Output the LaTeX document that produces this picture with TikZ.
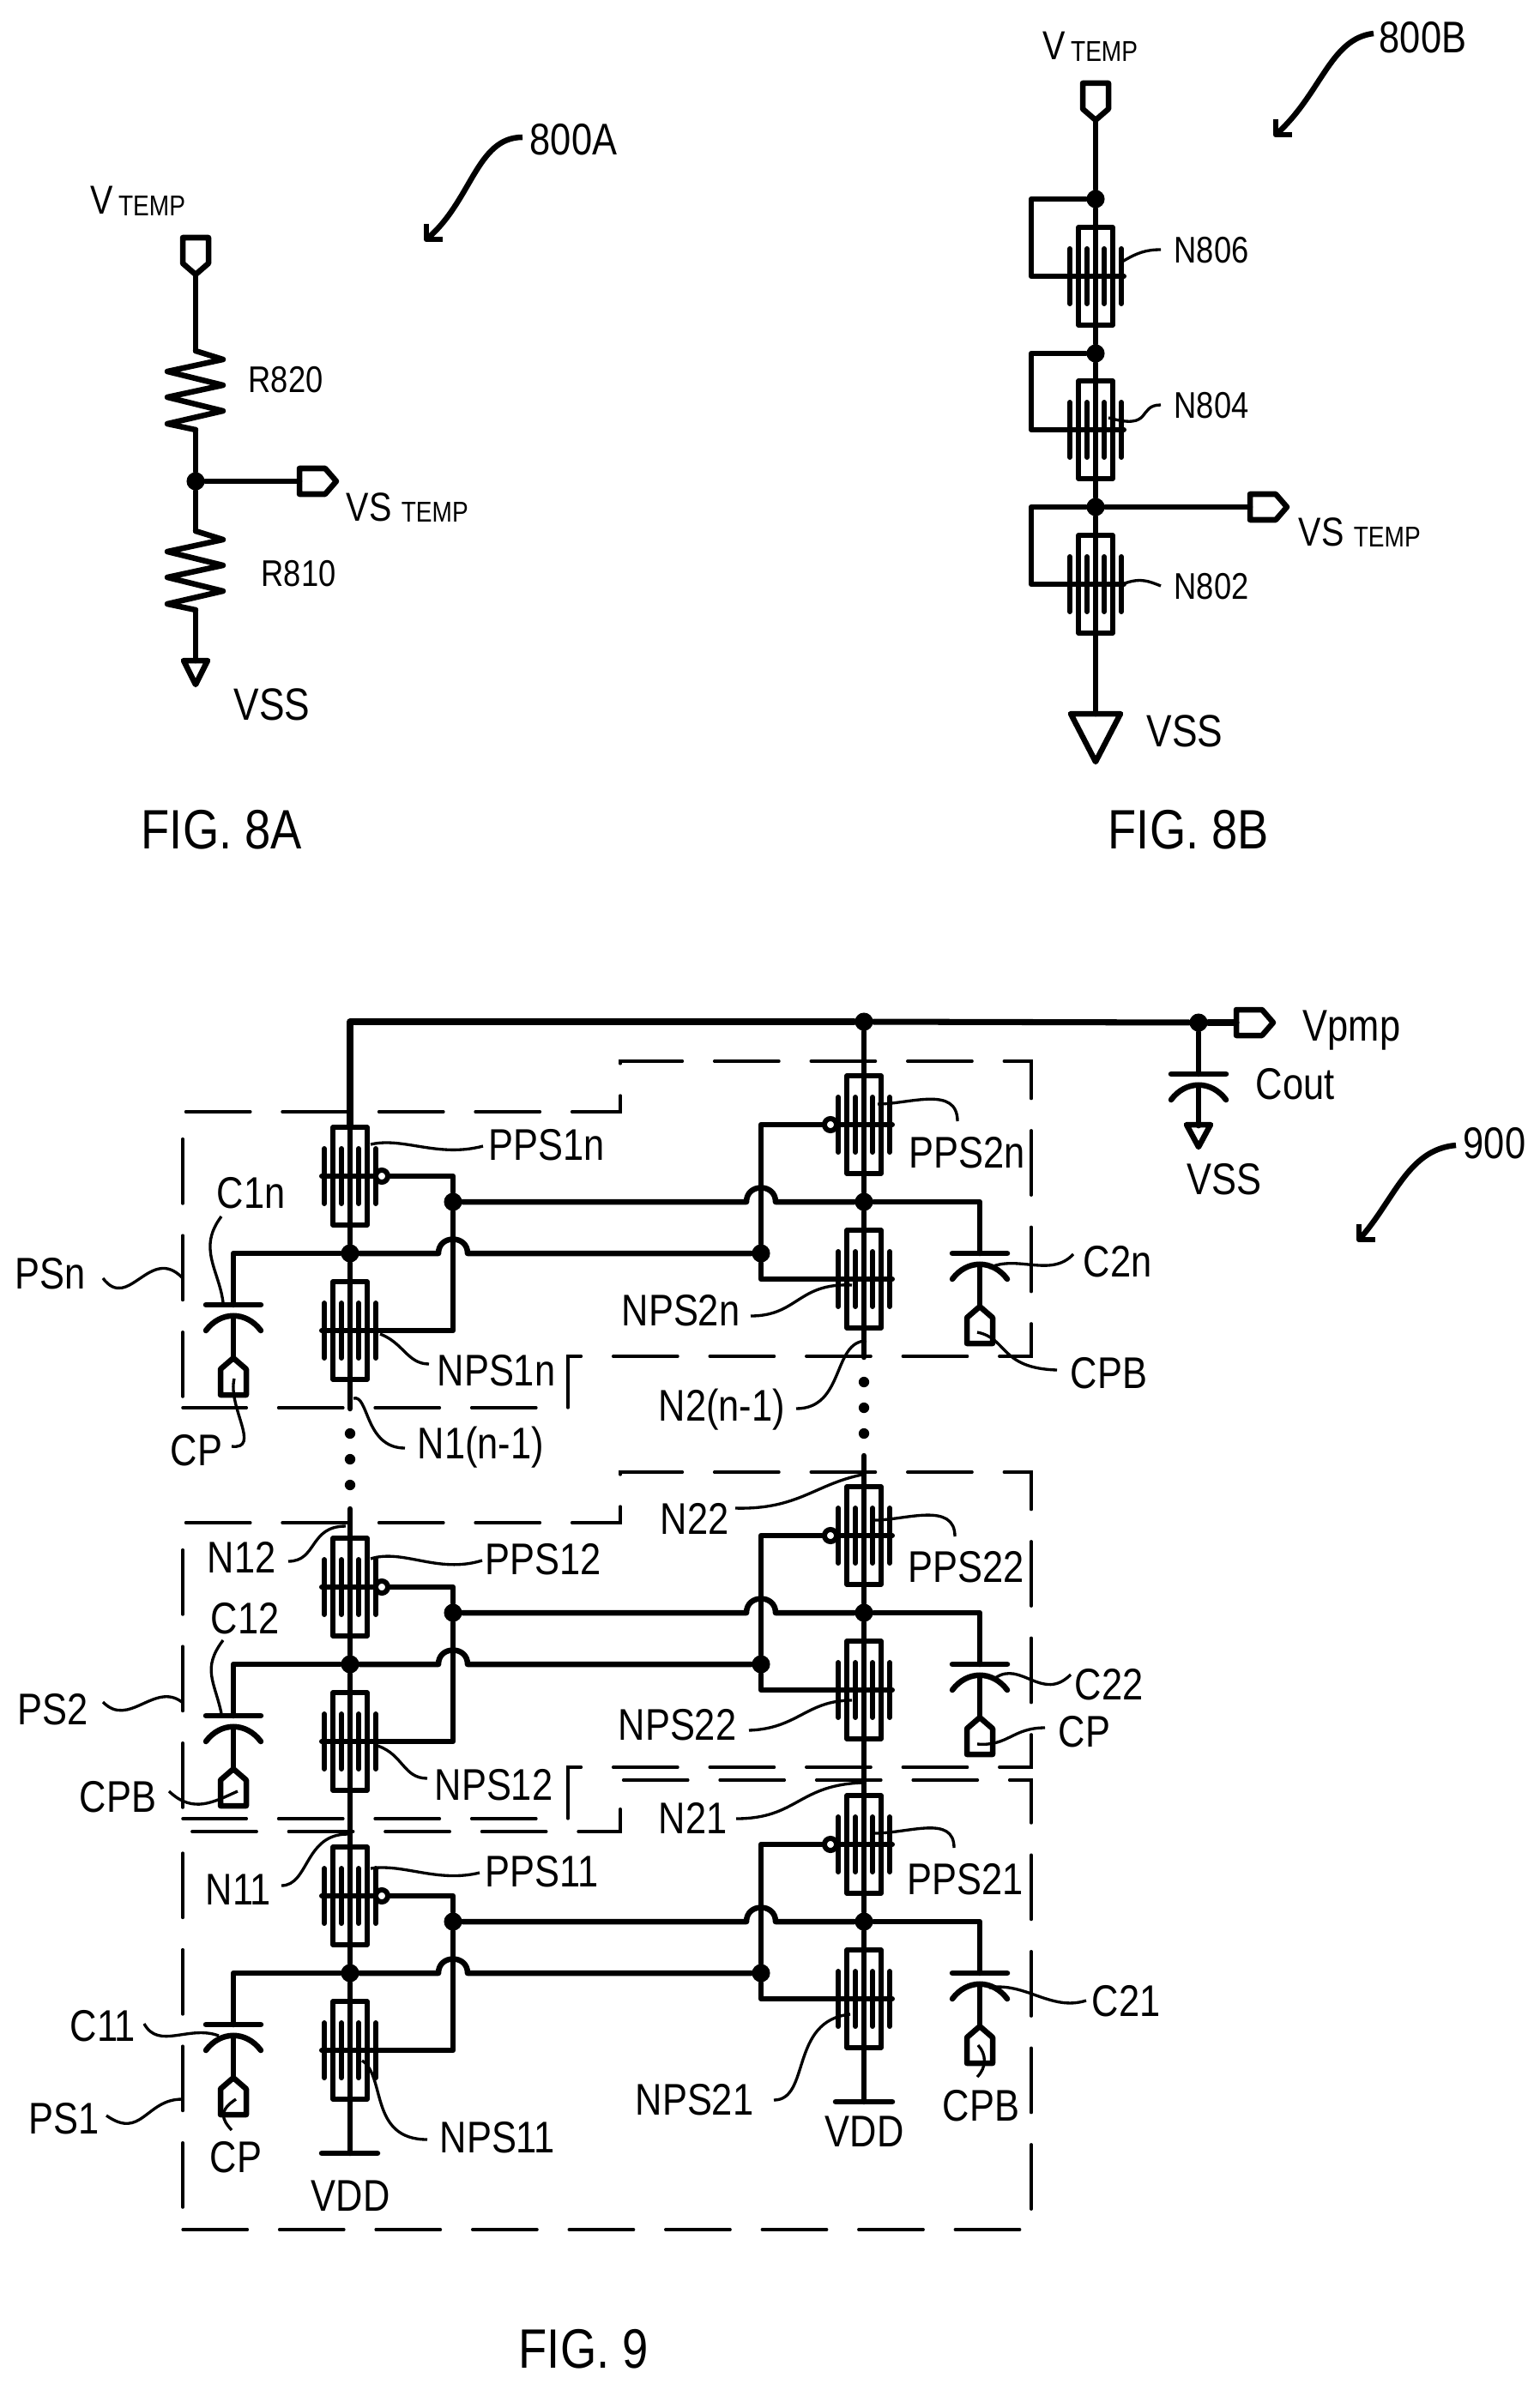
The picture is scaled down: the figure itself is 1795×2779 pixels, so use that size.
\documentclass[tikz,border=0pt]{standalone}
\usepackage{fontspec}
\newfontfamily\labelfont[FakeStretch=0.84]{Liberation Sans}

\tikzset{
  wire/.style={line width=1.85pt, line join=round, line cap=round},
  rail/.style={line width=2pt, line join=round, line cap=round},
  finger/.style={line width=1.7pt, line cap=round},
  devbox/.style={line width=1.5pt, line join=round},
  leader/.style={line width=0.95pt},
  refmark/.style={line width=1.85pt, line join=round},
  dashbox/.style={line width=1pt, line cap=round, dash pattern=on 21.4pt off 10.6pt},
  junct/.style={circle, fill=black, inner sep=0pt, minimum size=6pt},
  smalldot/.style={circle, fill=black, inner sep=0pt, minimum size=3.5pt},
  inv/.style={circle, draw, fill=white, line width=1.7pt, inner sep=0pt, minimum size=4pt},
  lbl/.style={anchor=base west, inner sep=0pt, font=\labelfont\fontsize{14.7}{16}\selectfont},
  lblsmall/.style={lbl, font=\labelfont\fontsize{12.3}{14}\selectfont},
  lblmid/.style={lbl, font=\labelfont\fontsize{13.4}{15}\selectfont},
  lblvss/.style={lbl, font=\labelfont\fontsize{15}{17}\selectfont},
  lblfig/.style={lbl, font=\labelfont\fontsize{18.4}{21}\selectfont}
}

% transistor: name, x, y of the gate bar
\newcommand{\mosfet}[3]{
  \begin{scope}[shift={(#2,#3)}]
    \draw[devbox] (-20,-57) rectangle (20,57);
    \draw[wire] (0,-58) -- (0,58);
    \foreach \fx in {-30,-10,10,30} {\draw[finger] (\fx,-32) -- (\fx,32);}
    \draw[finger] (-33,0) -- (33,0);
    \coordinate (#1-t) at (0,-58);
    \coordinate (#1-b) at (0,58);
    \coordinate (#1-l) at (-33,0);
    \coordinate (#1-r) at (33,0);
  \end{scope}
}
% capacitor: name, x, y of the flat plate
\newcommand{\capac}[3]{
  \begin{scope}[shift={(#2,#3)}]
    \draw[wire] (-32,0) -- (32,0);
    \draw[wire] (-32,30) .. controls (-15,7) and (15,7) .. (32,30);
    \draw[wire] (0,13) -- (0,60);
    \coordinate (#1-t) at (0,0);
    \coordinate (#1-o) at (0,60);
  \end{scope}
}
% pentagon port: name, x, y of the tip, rotation
\newcommand{\port}[4]{
  \begin{scope}[shift={(#2,#3)}, rotate=#4]
    \coordinate (#1) at (0,0);
    \draw[wire] (0,0) -- (15,13) -- (15,43) -- (-15,43) -- (-15,13) -- cycle;
  \end{scope}
}
% ground triangle: name, x, y of the top, half width, height
\newcommand{\gnd}[5]{
  \coordinate (#1) at (#2,#3);
  \draw[wire] (#2-#4,#3) -- (#2+#4,#3) -- (#2,#3+#5) -- cycle;
}
% resistor: name, x, y of the upper end
\newcommand{\resist}[3]{
  \begin{scope}[shift={(#2,#3)}]
    \coordinate (#1-t) at (0,0);
    \coordinate (#1-b) at (0,92);
    \draw[wire] (0,0) -- (32,10) -- (-33,24) -- (32,40) -- (-33,54) -- (32,70) -- (-33,85) -- (0,92);
  \end{scope}
}
% thin curved line from a part to its label
\newcommand{\leadline}[5]{
  \coordinate (#1-a) at (#2);
  \coordinate (#1-b) at (#5);
  \draw[leader] (#1-a) .. controls (#3) and (#4) .. (#1-b);
}
% hand drawn arrow next to a figure number
\newcommand{\refarrow}[6]{
  \coordinate (#1-a) at (#2,#3);
  \coordinate (#1-b) at (#6);
  \draw[refmark] (#2,#3-18) -- (#1-a) -- (#2+19,#3);
  \draw[refmark] (#1-a) .. controls (#4) and (#5) .. (#1-b);
}
\newcommand{\tempsub}[1]{\hspace{#1}\raisebox{-.5pt}{\fontsize{9.5}{11}\selectfont TEMP}}

\begin{document}
\begin{tikzpicture}[x=0.01cm, y=-0.01cm]
\useasboundingbox (0,0) rectangle (1795,2779);

% FIG. 8A
\port{vtA}{228}{320}{180}
\resist{r820}{228}{409}
\node[junct] (jnA) at (228,561) {};
\resist{r810}{228}{619}
\port{vsA}{392}{561}{-90}
\gnd{gndA}{228}{770}{14}{28}
\draw[wire] (vtA) -- (r820-t);
\draw[wire] (r820-b) -- (jnA);
\draw[wire] (jnA) -- (r810-t);
\draw[wire] (r810-b) -- (gndA);
\draw[wire] (jnA) -- (349,561);

\node[lblmid] (lbVtA) at (105,250) {V\tempsub{1.7pt}};
\node[lblsmall] (lbR820) at (289,457) {R820};
\node[lblmid] (lbVsA) at (403,607) {VS\tempsub{3.2pt}};
\node[lblsmall] (lbR810) at (304,683) {R810};
\node[lblvss] (lbVssA) at (272,839) {VSS};
\node[lbl] (lb800A) at (617,181) {800A};
\node[lblfig] (lbFigA) at (164,989) {FIG. 8A};
\refarrow{arA}{497}{279}{550,235}{555,160}{609,160}

% FIG. 8B
\port{vtB}{1277}{140}{180}
\node[junct] (jn806) at (1277,232) {};
\node[junct] (jn804) at (1277,412) {};
\node[junct] (jn802) at (1277,591) {};
\mosfet{n806}{1277}{322}
\mosfet{n804}{1277}{501}
\mosfet{n802}{1277}{681}
\port{vsB}{1500}{591}{-90}
\gnd{gndB}{1277}{832}{29}{56}
\draw[wire] (vtB) -- (jn806);
\draw[wire] (jn806) -- (n806-t);
\draw[wire] (n806-b) -- (jn804);
\draw[wire] (jn804) -- (n804-t);
\draw[wire] (n804-b) -- (jn802);
\draw[wire] (jn802) -- (n802-t);
\draw[wire] (n802-b) -- (gndB);
\draw[wire] (jn806) -- (1202,232) |- (n806-l);
\draw[wire] (jn804) -- (1202,412) |- (n804-l);
\draw[wire] (jn802) -- (1202,591) |- (n802-l);
\draw[wire] (jn802) -- (1457,591);

\node[lblmid] (lbVtB) at (1215,70) {V\tempsub{1.7pt}};
\node[lblsmall] (lbN806) at (1368,307) {N806};
\node[lblsmall] (lbN804) at (1368,488) {N804};
\node[lblsmall] (lbN802) at (1368,698) {N802};
\node[lblmid] (lbVsB) at (1513,636) {VS\tempsub{3.2pt}};
\node[lblvss] (lbVssB) at (1336,870) {VSS};
\node[lbl] (lb800B) at (1607,62) {800B};
\node[lblfig] (lbFigB) at (1291,989) {FIG. 8B};
\leadline{ldN806}{1308,305}{1325,295}{1335,291}{1353,291}
\leadline{ldN804}{1292,487}{1345,502}{1325,472}{1353,472}
\leadline{ldN802}{1311,680}{1330,673}{1340,678}{1353,683}
\refarrow{arB}{1487}{157}{1540,110}{1550,45}{1601,39}

% FIG. 9, one stage for each row: left/right suffix and y shift
\foreach \rr/\ss/\dy in {1n/2n/0, 12/22/479, 11/21/839} {
  \mosfet{pps\rr}{408}{1371+\dy}
  \mosfet{nps\rr}{408}{1551+\dy}
  \mosfet{pps\ss}{1007}{1311+\dy}
  \mosfet{nps\ss}{1007}{1491+\dy}
  \node[junct] (nd\rr) at (408,1461+\dy) {};
  \node[junct] (gt\rr) at (528,1401+\dy) {};
  \node[junct] (nd\ss) at (1007,1401+\dy) {};
  \node[junct] (gt\ss) at (887,1461+\dy) {};
  \capac{cap\rr}{272}{1521+\dy}
  \capac{cap\ss}{1142}{1461+\dy}
  \port{clk\rr}{272}{1523+\dy+60}{0}
  \port{clk\ss}{1142}{1463+\dy+60}{0}

  \draw[wire] (pps\rr-b) -- (nd\rr);
  \draw[wire] (nd\rr) -- (nps\rr-t);
  \draw[wire] (pps\ss-b) -- (nd\ss);
  \draw[wire] (nd\ss) -- (nps\ss-t);
  \draw[wire] (gt\rr) |- (nps\rr-r);
  \draw[wire] (gt\ss) |- (nps\ss-l);
  \draw[wire] (gt\rr) -- (870,1401+\dy) .. controls (870,1379+\dy) and (904,1379+\dy) .. (904,1401+\dy) -- (nd\ss);
  \draw[wire] (nd\rr) -- (511,1461+\dy) .. controls (511,1439+\dy) and (545,1439+\dy) .. (545,1461+\dy) -- (gt\ss);
  \draw[wire] (nd\rr) -| (cap\rr-t);
  \draw[wire] (nd\ss) -| (cap\ss-t);
  \draw[wire] (cap\rr-o) -- (clk\rr);
  \draw[wire] (cap\ss-o) -- (clk\ss);

  \node[inv] (bub\rr) at (445,1371+\dy) {};
  \node[inv] (bub\ss) at (968,1311+\dy) {};
  \draw[wire] (bub\rr) -| (gt\rr);
  \draw[wire] (bub\ss) -| (gt\ss);
}

% links between the stages
\coordinate (railL) at (408,1191);
\node[junct] (jnTop) at (1007,1191) {};
\node[junct] (jnOut) at (1397,1192) {};
\port{vpmp}{1484}{1192}{-90}
\draw[rail] (pps1n-t) -- (railL) -- (jnTop);
\draw[rail] (jnTop) -- (jnOut);
\draw[rail] (jnOut) -- (1441,1192);
\draw[wire] (jnTop) -- (pps2n-t);
\coordinate (endL) at (408,1642);
\coordinate (endR) at (1007,1582);
\coordinate (startL) at (408,1759);
\coordinate (startR) at (1007,1697);
\draw[wire] (nps1n-b) -- (endL);
\draw[wire] (nps2n-b) -- (endR);
\draw[wire] (startL) -- (pps12-t);
\draw[wire] (startR) -- (pps22-t);
\draw[wire] (nps12-b) -- (pps11-t);
\draw[wire] (nps22-b) -- (pps21-t);
\foreach \yy/\zz in {1671/1611, 1701/1641, 1731/1671} {
  \node[smalldot] (dotL\yy) at (408,\yy) {};
  \node[smalldot] (dotR\zz) at (1007,\zz) {};
}

% output capacitor
\capac{cout}{1397}{1252}
\gnd{gndC}{1397}{1311}{14}{26}
\draw[wire] (jnOut) -- (cout-t);
\draw[wire] (cout-o) -- (gndC);

% supply bars
\coordinate (vddL) at (408,2510);
\coordinate (vddR) at (1007,2450);
\draw[wire] (nps11-b) -- (vddL);
\draw[wire] (nps21-b) -- (vddR);
\draw[wire] (375,2510) -- (440,2510);
\draw[wire] (974,2450) -- (1040,2450);

% dashed outlines of the stages
\foreach \dy in {0,479} {
  \draw[dashbox, dash phase=31pt] (213,1296+\dy) -- (723,1296+\dy) -- (723,1237+\dy) -- (1202,1237+\dy) -- (1202,1581+\dy) -- (662,1581+\dy) -- (662,1641+\dy) -- (213,1641+\dy);
  \draw[dashbox, dash phase=28.3pt] (213,1641+\dy) -- (213,1296+\dy);
}
\draw[dashbox, dash phase=28.9pt] (213,2135) -- (723,2135) -- (723,2075) -- (1202,2075) -- (1202,2599) -- (213,2599);
\draw[dashbox, dash phase=24.6pt] (213,2599) -- (213,2135);

% labels of FIG. 9
\node[lbl] (lbVpmp) at (1518,1213) {Vpmp};
\node[lbl] (lbCout) at (1463,1281) {Cout};
\node[lbl] (lbVssC) at (1383,1392) {VSS};
\node[lbl] (lb900) at (1705,1350) {900};
\node[lbl] (lbPPS1n) at (569,1352) {PPS1n};
\node[lbl] (lbPPS2n) at (1059,1361) {PPS2n};
\node[lbl] (lbC1n) at (252,1408) {C1n};
\node[lbl] (lbC2n) at (1262,1488) {C2n};
\node[lbl] (lbPSn) at (17,1502) {PSn};
\node[lbl] (lbNPS2n) at (724,1545) {NPS2n};
\node[lbl] (lbNPS1n) at (509,1615) {NPS1n};
\node[lbl] (lbCPBa) at (1247,1618) {CPB};
\node[lbl] (lbN2n) at (767,1656) {N2(n-1)};
\node[lbl] (lbN1n) at (486,1700) {N1(n-1)};
\node[lbl] (lbCPa) at (198,1708) {CP};
\node[lbl] (lbN22) at (769,1788) {N22};
\node[lbl] (lbN12) at (241,1833) {N12};
\node[lbl] (lbPPS12) at (565,1835) {PPS12};
\node[lbl] (lbPPS22) at (1058,1844) {PPS22};
\node[lbl] (lbC12) at (245,1904) {C12};
\node[lbl] (lbC22) at (1252,1981) {C22};
\node[lbl] (lbPS2) at (20,2010) {PS2};
\node[lbl] (lbNPS22) at (720,2028) {NPS22};
\node[lbl] (lbCPb) at (1233,2036) {CP};
\node[lbl] (lbNPS12) at (506,2098) {NPS12};
\node[lbl] (lbCPBb) at (92,2112) {CPB};
\node[lbl] (lbN21) at (767,2137) {N21};
\node[lbl] (lbPPS11) at (565,2199) {PPS11};
\node[lbl] (lbPPS21) at (1057,2208) {PPS21};
\node[lbl] (lbN11) at (239,2220) {N11};
\node[lbl] (lbC21) at (1272,2350) {C21};
\node[lbl] (lbC11) at (81,2379) {C11};
\node[lbl] (lbNPS21) at (740,2465) {NPS21};
\node[lbl] (lbCPBc) at (1098,2472) {CPB};
\node[lbl] (lbPS1) at (33,2487) {PS1};
\node[lbl] (lbVddR) at (961,2502) {VDD};
\node[lbl] (lbNPS11) at (512,2509) {NPS11};
\node[lbl] (lbCPc) at (244,2532) {CP};
\node[lbl] (lbVddL) at (362,2577) {VDD};
\node[lblfig] (lbFig9) at (604,2760) {FIG. 9};

% thin lines to the labels
\leadline{ldPPS1n}{432,1334}{470,1325}{510,1350}{563,1336}
\leadline{ldNPS1n}{443,1555}{470,1565}{475,1590}{500,1590}
\leadline{ldPPS2n}{1023,1287}{1060,1287}{1116,1265}{1116,1307}
\leadline{ldC2n}{1153,1478}{1185,1462}{1225,1490}{1251,1462}
\leadline{ldNPS2n}{993,1498}{930,1495}{930,1534}{875,1534}
\leadline{ldN2n}{928,1642}{985,1642}{970,1563}{1010,1563}
\leadline{ldCPBa}{1139,1553}{1175,1560}{1165,1595}{1232,1597}
\leadline{ldC1n}{258,1418}{230,1455}{255,1480}{260,1518}
\leadline{ldPSn}{120,1490}{150,1530}{175,1450}{213,1490}
\leadline{ldCPa}{273,1607}{265,1640}{305,1690}{270,1686}
\leadline{ldN1n}{412,1630}{430,1625}{425,1688}{472,1688}
\leadline{ldN12}{336,1820}{370,1820}{360,1779}{403,1779}
\leadline{ldN22}{857,1758}{930,1760}{950,1730}{1005,1719}
\leadline{ldPPS12}{432,1817}{470,1805}{510,1835}{562,1819}
\leadline{ldPPS22}{1020,1772}{1055,1772}{1113,1750}{1113,1791}
\leadline{ldC12}{260,1912}{235,1945}{250,1960}{258,1997}
\leadline{ldC22}{1160,1956}{1190,1935}{1215,1985}{1248,1952}
\leadline{ldPS2}{120,1984}{150,2015}{180,1960}{212,1984}
\leadline{ldNPS22}{873,2017}{930,2015}{940,1982}{993,1982}
\leadline{ldCPb}{1139,2033}{1175,2036}{1180,2014}{1218,2014}
\leadline{ldNPS12}{440,2035}{470,2045}{470,2073}{498,2073}
\leadline{ldCPBb}{197,2088}{225,2115}{250,2100}{277,2088}
\leadline{ldN21}{858,2120}{930,2120}{930,2080}{1007,2078}
\leadline{ldPPS11}{432,2178}{470,2172}{510,2195}{559,2183}
\leadline{ldPPS21}{1019,2137}{1060,2137}{1112,2115}{1112,2154}
\leadline{ldN11}{328,2198}{360,2198}{355,2138}{405,2138}
\leadline{ldC21}{1153,2317}{1195,2310}{1225,2345}{1266,2332}
\leadline{ldC11}{168,2359}{185,2390}{220,2360}{255,2373}
\leadline{ldNPS21}{991,2348}{920,2355}{945,2448}{902,2448}
\leadline{ldCPBc}{1140,2384}{1150,2395}{1150,2410}{1139,2421}
\leadline{ldNPS11}{422,2402}{450,2420}{430,2494}{498,2494}
\leadline{ldCPc}{275,2447}{255,2460}{258,2470}{270,2483}
\leadline{ldPS1}{124,2466}{165,2495}{170,2447}{212,2447}
\refarrow{ar900}{1584}{1445}{1625,1400}{1640,1340}{1697,1335}

\end{tikzpicture}
\end{document}
